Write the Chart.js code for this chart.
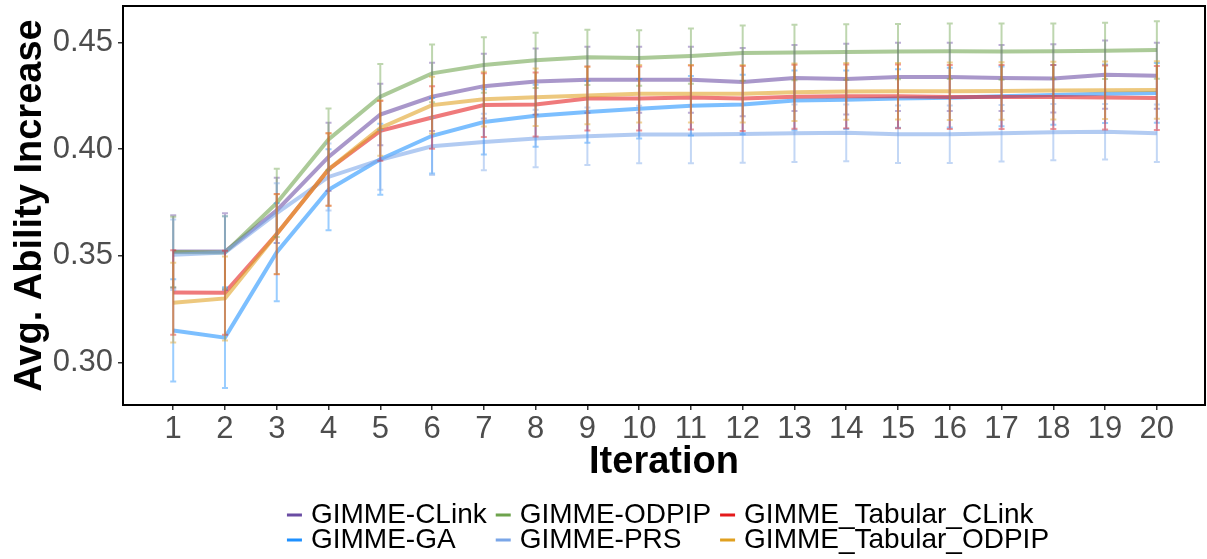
<!DOCTYPE html>
<html>
<head>
<meta charset="utf-8">
<script src="https://cdn.jsdelivr.net/npm/chart.js@4.4.1/dist/chart.umd.min.js"></script>
<style>
  body { margin: 0; background: #fff; }
  #wrap { width: 1207px; height: 559px; }
</style>
</head>
<body>
<div id="wrap"><canvas id="chart" width="1207" height="559"></canvas></div>
<script>
// iterations on the x axis
const iterations = [1, 2, 3, 4, 5, 6, 7, 8, 9, 10, 11, 12, 13, 14, 15, 16, 17, 18, 19, 20];
const yTicks = [0.30, 0.35, 0.40, 0.45];

// mean ability increase per algorithm
const clinkMean = [0.352, 0.352, 0.3713, 0.3964, 0.4163, 0.4246, 0.4296, 0.4318, 0.4326, 0.4326, 0.4326, 0.4315, 0.4334, 0.4329, 0.4339, 0.4339, 0.4334, 0.4332, 0.435, 0.4345];
const gaMean = [0.315, 0.3116, 0.3517, 0.381, 0.3953, 0.4063, 0.4128, 0.4157, 0.4175, 0.419, 0.4204, 0.421, 0.4229, 0.4232, 0.4238, 0.4242, 0.4248, 0.4255, 0.426, 0.4264];
const odpipMean = [0.3518, 0.3515, 0.3748, 0.4046, 0.4246, 0.4356, 0.4395, 0.4417, 0.4431, 0.4428, 0.4437, 0.4451, 0.4454, 0.4456, 0.4458, 0.446, 0.4458, 0.446, 0.4462, 0.4466];
const prsMean = [0.3505, 0.3515, 0.370, 0.387, 0.395, 0.4014, 0.4034, 0.405, 0.4061, 0.4069, 0.4069, 0.4072, 0.4075, 0.4077, 0.407, 0.407, 0.4075, 0.408, 0.4082, 0.4075];
const tabClinkMean = [0.3328, 0.3327, 0.3602, 0.3905, 0.4086, 0.4149, 0.4207, 0.421, 0.4238, 0.4238, 0.4243, 0.4238, 0.4246, 0.4248, 0.4248, 0.4245, 0.4245, 0.4245, 0.4243, 0.424];
const tabOdpipMean = [0.328, 0.330, 0.3602, 0.3905, 0.410, 0.4207, 0.4235, 0.4244, 0.4252, 0.426, 0.426, 0.426, 0.4267, 0.4271, 0.4272, 0.4272, 0.4273, 0.4275, 0.4277, 0.4278];

// half width of the error bars
const clinkErr = [0.017, 0.018, 0.0153, 0.016, 0.0144, 0.016, 0.0152, 0.0155, 0.0155, 0.0155, 0.0155, 0.016, 0.0155, 0.0166, 0.016, 0.016, 0.0155, 0.016, 0.016, 0.0155];
const gaErr = [0.024, 0.0236, 0.023, 0.019, 0.0167, 0.0177, 0.0153, 0.0145, 0.0145, 0.014, 0.014, 0.014, 0.014, 0.0137, 0.0137, 0.014, 0.014, 0.014, 0.0137, 0.014];
const odpipErr = [0.0165, 0.017, 0.016, 0.0145, 0.0154, 0.0135, 0.013, 0.013, 0.013, 0.013, 0.013, 0.013, 0.013, 0.013, 0.013, 0.013, 0.0132, 0.013, 0.0132, 0.0135];
const prsErr = [0.0165, 0.017, 0.014, 0.0157, 0.014, 0.0135, 0.0133, 0.0135, 0.0135, 0.0135, 0.0135, 0.0135, 0.0135, 0.0133, 0.0135, 0.0135, 0.0133, 0.0132, 0.013, 0.0135];
const tabClinkErr = [0.0198, 0.0197, 0.0188, 0.017, 0.014, 0.0147, 0.015, 0.015, 0.015, 0.015, 0.015, 0.0152, 0.015, 0.015, 0.015, 0.015, 0.015, 0.015, 0.015, 0.015];
const tabOdpipErr = [0.0187, 0.0197, 0.0187, 0.017, 0.013, 0.0133, 0.0128, 0.0135, 0.0135, 0.0135, 0.0135, 0.0135, 0.0135, 0.0133, 0.0133, 0.0135, 0.0135, 0.0135, 0.0135, 0.0135];

const series = [
  { label: 'GIMME-CLink', mean: clinkMean, err: clinkErr, color: '#6a4ca3' },
  { label: 'GIMME-GA', mean: gaMean, err: gaErr, color: '#1e90ff' },
  { label: 'GIMME-ODPIP', mean: odpipMean, err: odpipErr, color: '#6ea34d' },
  { label: 'GIMME-PRS', mean: prsMean, err: prsErr, color: '#7aa6e8' },
  { label: 'GIMME_Tabular_CLink', mean: tabClinkMean, err: tabClinkErr, color: '#e41a1c' },
  { label: 'GIMME_Tabular_ODPIP', mean: tabOdpipMean, err: tabOdpipErr, color: '#e0a020' }
];

function withAlpha(hex, a) {
  const n = parseInt(hex.slice(1), 16);
  return 'rgba(' + (n >> 16) + ',' + ((n >> 8) & 255) + ',' + (n & 255) + ',' + a + ')';
}

const FONT = "'Liberation Sans', Arial, sans-serif";

// error bars, drawn on top of the lines like geom_errorbar
const errorBars = {
  id: 'errorBars',
  afterDatasetsDraw(chart) {
    const ctx = chart.ctx, xs = chart.scales.x, ys = chart.scales.y;
    ctx.save();
    ctx.lineWidth = 2;
    series.forEach(s => {
      ctx.strokeStyle = withAlpha(s.color, 0.45);
      iterations.forEach((it, i) => {
        const x = xs.getPixelForValue(it);
        const y1 = ys.getPixelForValue(s.mean[i] + s.err[i]);
        const y2 = ys.getPixelForValue(s.mean[i] - s.err[i]);
        ctx.beginPath();
        ctx.moveTo(x, y1); ctx.lineTo(x, y2);
        ctx.moveTo(x - 3, y1); ctx.lineTo(x + 3, y1);
        ctx.moveTo(x - 3, y2); ctx.lineTo(x + 3, y2);
        ctx.stroke();
      });
    });
    ctx.restore();
  }
};

// panel frame and the three-column legend under the chart
const frameAndLegend = {
  id: 'frameAndLegend',
  afterDraw(chart) {
    const ctx = chart.ctx, a = chart.chartArea;
    ctx.save();
    ctx.strokeStyle = '#000';
    ctx.lineWidth = 2;
    ctx.strokeRect(a.left, a.top, a.right - a.left, a.bottom - a.top);

    ctx.font = '28px ' + FONT;
    ctx.textBaseline = 'middle';
    const keyW = 15, keyGap = 9, colGap = 9, rowY = [515, 540];
    const cols = [];
    for (let c = 0; c < 3; c++) {
      const items = series.slice(c * 2, c * 2 + 2);
      const w = Math.max(...items.map(s => ctx.measureText(s.label).width));
      cols.push({ items, w: keyW + keyGap + w });
    }
    const total = cols.reduce((t, c) => t + c.w, 0) + colGap * (cols.length - 1);
    let x = (a.left + a.right) / 2 + 4 - total / 2;
    cols.forEach(col => {
      col.items.forEach((s, r) => {
        ctx.fillStyle = s.color;
        ctx.fillRect(x, rowY[r] - 1.5, keyW, 3);
        ctx.fillStyle = '#000';
        ctx.fillText(s.label, x + keyW + keyGap, rowY[r]);
      });
      x += col.w + colGap;
    });
    ctx.restore();
  }
};

new Chart(document.getElementById('chart'), {
  type: 'line',
  data: {
    datasets: series.map((s, i) => ({
      label: s.label,
      data: iterations.map((it, k) => ({ x: it, y: s.mean[k] })),
      borderColor: withAlpha(s.color, 0.58),
      borderWidth: 4,
      pointRadius: 0,
      pointHoverRadius: 0,
      tension: 0,
      fill: false,
      order: series.length - i
    }))
  },
  options: {
    responsive: false,
    devicePixelRatio: 1,
    animation: false,
    layout: { autoPadding: false, padding: { left: 0, right: 2, top: 6, bottom: 74 } },
    plugins: { legend: { display: false }, tooltip: { enabled: false } },
    scales: {
      x: {
        type: 'linear',
        min: 0.03,
        max: 20.93,
        afterBuildTicks: scale => { scale.ticks = iterations.map(v => ({ value: v })); },
        afterFit: scale => { scale.height = 80; scale.paddingLeft = 0; scale.paddingRight = 0; },
        grid: { drawOnChartArea: false, drawTicks: true, tickLength: 5, color: '#333', lineWidth: 1.5 },
        border: { display: false },
        ticks: { color: '#4d4d4d', font: { family: FONT, size: 31 }, padding: 1, maxRotation: 0, autoSkip: false },
        title: { display: true, text: 'Iteration', color: '#000', font: { family: FONT, size: 38, weight: 'bold' }, padding: { top: 0, bottom: 0 } }
      },
      y: {
        min: 0.28,
        max: 0.4672,
        afterBuildTicks: scale => { scale.ticks = yTicks.map(v => ({ value: v })); },
        afterFit: scale => { scale.width = 123; scale.paddingTop = 0; scale.paddingBottom = 0; },
        grid: { drawOnChartArea: false, drawTicks: true, tickLength: 5, color: '#333', lineWidth: 1.5 },
        border: { display: false },
        ticks: { color: '#4d4d4d', font: { family: FONT, size: 31 }, padding: 5, callback: v => v.toFixed(2) },
        title: { display: true, text: 'Avg. Ability Increase', color: '#000', font: { family: FONT, size: 38, weight: 'bold' }, padding: { top: 8, bottom: 0 } }
      }
    }
  },
  plugins: [errorBars, frameAndLegend]
});
</script>
</body>
</html>
